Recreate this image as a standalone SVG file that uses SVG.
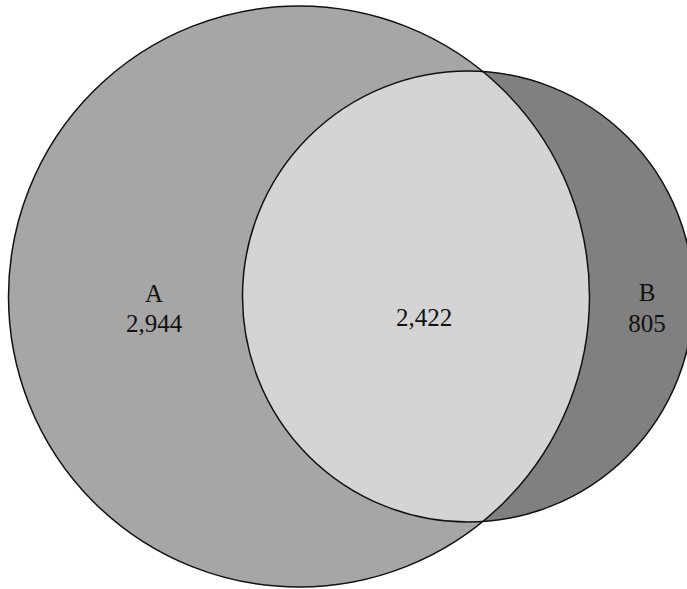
<svg xmlns="http://www.w3.org/2000/svg" width="687" height="589" viewBox="0 0 687 589">
<defs>
<style>
.lbl{font-family:"Liberation Serif","Times New Roman",serif;font-size:25px;fill:#111;text-anchor:middle}
.edge{fill:none;stroke:#111;stroke-width:1.5}
</style>
<clipPath id="clipA"><circle cx="299" cy="296.5" r="290.5"/></clipPath>
</defs>
<rect width="687" height="589" fill="#fff"/>
<g id="setA">
<circle cx="299" cy="296.5" r="290.5" fill="#a6a6a6"/>
</g>
<g id="setB">
<circle cx="468" cy="296.5" r="225.5" fill="#808080"/>
</g>
<g id="intersection">
<circle cx="468" cy="296.5" r="225.5" fill="#d4d4d4" clip-path="url(#clipA)"/>
</g>
<g id="outlines">
<circle class="edge" cx="299" cy="296.5" r="290.5"/>
<circle class="edge" cx="468" cy="296.5" r="225.5"/>
</g>
<g id="labels">
<text class="lbl" x="154" y="302">A</text>
<text class="lbl" x="154" y="332">2,944</text>
<text class="lbl" x="424" y="326">2,422</text>
<text class="lbl" x="647" y="301">B</text>
<text class="lbl" x="647" y="332">805</text>
</g>
</svg>
